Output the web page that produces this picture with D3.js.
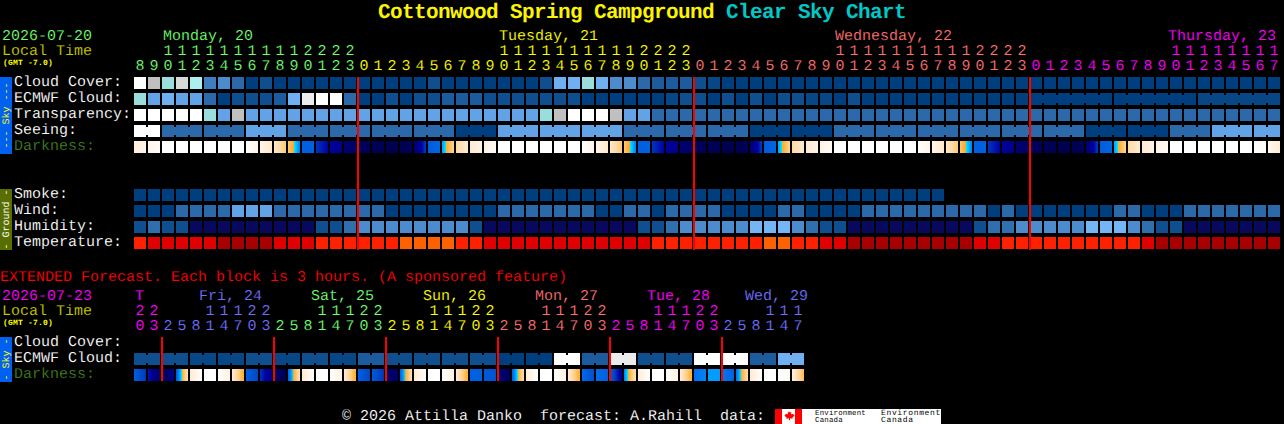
<!DOCTYPE html>
<html>
<head>
<meta charset="utf-8">
<script src="https://cdn.jsdelivr.net/npm/d3@7/dist/d3.min.js"></script>
<style>
html,body{margin:0;padding:0;background:#000;overflow:hidden}
svg{display:block}
text{font-family:"Liberation Mono",monospace;white-space:pre;font-size:15px;text-rendering:geometricPrecision}
text.thin{stroke:#000;stroke-width:.12px}
</style>
</head>
<body>
<svg id="c" width="1284" height="424" xmlns="http://www.w3.org/2000/svg"></svg>
<script>
// ---------- DATA ----------
const hours = [8,9,10,11,12,13,14,15,16,17,18,19,20,21,22,23,
  0,1,2,3,4,5,6,7,8,9,10,11,12,13,14,15,16,17,18,19,20,21,22,23,
  0,1,2,3,4,5,6,7,8,9,10,11,12,13,14,15,16,17,18,19,20,21,22,23,
  0,1,2,3,4,5,6,7,8,9,10,11,12,13,14,15,16,17];
const hourDays = [0,0,0,0,0,0,0,0,0,0,0,0,0,0,0,0,
  1,1,1,1,1,1,1,1,1,1,1,1,1,1,1,1,1,1,1,1,1,1,1,1,
  2,2,2,2,2,2,2,2,2,2,2,2,2,2,2,2,2,2,2,2,2,2,2,2,
  3,3,3,3,3,3,3,3,3,3,3,3,3,3,3,3,3,3];
const extHours = [20,23, 2,5,8,11,14,17,20,23, 2,5,8,11,14,17,20,23, 2,5,8,11,14,17,20,23,
  2,5,8,11,14,17,20,23, 2,5,8,11,14,17,20,23, 2,5,8,11,14,17];
const extDays = [3,3, 4,4,4,4,4,4,4,4, 0,0,0,0,0,0,0,0, 1,1,1,1,1,1,1,1,
  2,2,2,2,2,2,2,2, 3,3,3,3,3,3,3,3, 4,4,4,4,4,4];
const dayColors = ["#70ff70","#ffff00","#ff7070","#ff00ff","#7070ff"];

const cloudCover = [100,70,60,80,65,25,30,20,0,10,0,0,0,0,0,0,
  0,0,0,0,0,10,0,0,0,0,0,0,0,10,50,50,60,50,30,30,20,15,15,15,
  10,5,0,0,0,0,0,0,0,0,0,0,0,0,0,0,0,0,0,0,0,0,0,0,
  0,0,0,0,0,0,0,0,0,0,0,0,0,0,0,0,0,0];
const ecmwfCloud = [60,40,50,40,40,20,0,10,10,10,15,50,90,100,100,20,
  0,0,10,0,10,10,15,15,15,10,10,10,10,10,10,10,0,0,0,0,0,0,5,10,
  10,0,10,0,10,0,10,10,5,5,0,10,0,0,0,0,0,0,0,0,0,0,0,0,
  0,0,0,0,0,0,0,0,0,0,0,0,5,5,5,5,5,5];
const transparency = [100,100,100,100,100,60,40,70,40,40,40,40,40,40,40,40,
  40,40,40,40,40,40,40,40,40,40,40,40,40,60,70,100,100,100,70,40,40,20,20,20,
  20,20,20,20,20,20,20,20,20,20,20,20,20,20,20,20,20,20,20,20,20,20,20,20,
  20,20,20,20,20,20,20,20,20,20,20,20,20,20,20,20,20,20];
const seeing = [100,100, 20,20,20, 20,20,20, 40,40,40, 20,20,20, 20,20,20, 20,20,20, 20,20,20,
  0,0,0, 40,40,40, 40,40,40, 40,40,40, 20,20,20, 20,20,20, 20,20,20, 0,0,0, 0,0,0,
  20,20,20, 20,20,20, 20,20,20, 20,20,20, 20,20,20, 20,20,20, 0,0,0, 0,0,0,
  20,20,20, 40,40,40, 40,40];
const seeingBlocks = [2,3,3,3,3,3,3,3,3,3,3,3,3,3,3,3,3,3,3,3,3,3,3,3,3,3,3,2];
const ecmwfBlocks = d3.range(64).map(() => 1).concat([6,6,6]);

const darkness = [[.1,.06],[.06,.02],[0,0],[0,0],[0,0],[0,0],[0,0],[0,0],[0,.06],[.06,.14],[.14,.26],[.26,.44],[.5,.5],[.62,.7],[.72,.78],[.85,.88],
  [.95,.96],[.97,.98],[.99,.99],[.98,.97],[.88,.6],[.51,.49],[.41,.22],[.2,.13],[.12,.07],[.07,.02],[0,0],[0,0],[0,0],[0,0],[0,0],[0,0],[0,.06],[.06,.14],[.14,.26],[.26,.44],[.5,.5],[.62,.7],[.72,.78],[.85,.88],
  [.95,.96],[.97,.98],[.99,.99],[.98,.97],[.88,.6],[.51,.49],[.41,.22],[.2,.13],[.12,.07],[.07,.02],[0,0],[0,0],[0,0],[0,0],[0,0],[0,0],[0,.06],[.06,.14],[.14,.26],[.26,.44],[.5,.5],[.62,.7],[.72,.78],[.85,.88],
  [.95,.96],[.97,.98],[.99,.99],[.98,.97],[.88,.6],[.51,.49],[.41,.22],[.2,.13],[.12,.07],[.07,.02],[0,0],[0,0],[0,0],[0,0],[0,0],[0,0],[0,.03],[.04,.12]];

const smoke = d3.range(58).map(() => 0);
const wind = [0,0,0,20,20,20,20,40,40,40,20,20,20,20,20,20,20,20,0,0,0,0,0,0,0,0,20,20,20,20,20,20,20,0,0,20,20,0,20,20,20,20,
  0,0,0,0,20,20,0,0,0,0,20,20,20,20,20,20,20,20,20,0,20,0,0,0,0,0,0,0,20,20,0,0,0,20,20,20,20,20,20,20];
const humidity = [1,2,1,1,0,0,0,0,0,0,0,0,0,1,1,2,3,3,3,3,3,3,3,3,1,0,0,0,0,0,0,0,0,0,0,0,1,1,2,3,3,3,3,3,4,4,4,3,2,1,1,0,
  0,0,0,0,0,0,0,0,1,2,2,3,3,3,3,3,4,4,4,3,2,1,1,0,0,0,0,0,0,0];
const temperature = [2,1,1,1,1,1,0,0,0,0,1,1,1,2,2,2,2,2,2,3,3,3,3,2,2,1,1,1,1,1,1,1,1,1,1,1,1,2,2,2,2,2,2,2,2,3,3,2,2,1,1,0,
  0,0,0,0,0,0,0,0,1,1,2,2,2,2,2,2,2,2,2,2,1,0,0,0,0,0,0,0,0,0];

const extEcmwf = [10,10,10,10,5,5,5,5,10,10,5,5,10,10,5,5,15,15,10,10,10,10,10,10,10,10,0,0,0,0,100,100,15,15,90,90,10,10,10,10,100,100,100,100,15,15,50,50];
const extBlocks = d3.range(24).map(() => 2);
const extDarkness = [[.5,.62],[.66,.9],[.98,.75],[.52,.16],[.12,0],[0,0],[0,.08],[.12,.34],
  [.5,.58],[.62,.8],[.88,.98],[.5,.16],[.12,0],[0,0],[0,.08],[.12,.34],
  [.5,.58],[.52,.62],[.85,.9],[.5,.16],[.12,0],[0,0],[0,.08],[.12,.34],
  [.5,.5],[.52,.54],[.8,.95],[.5,.18],[.1,0],[0,0],[0,.08],[.12,.34],
  [.48,.55],[.48,.5],[.5,.75],[.44,.16],[.1,0],[0,0],[0,.08],[.12,.34],
  [.47,.44],[.41,.41],[.46,.5],[.47,.18],[.12,0],[0,0],[0,.02],[.1,.3]];

// ---------- SCALES ----------
const cloudColor = d3.scaleOrdinal()
  .domain([0,5,10,15,20,25,30,40,50,60,65,70,80,90,100])
  .range(["#003f7f","#084785","#0f4f8f","#1c5b9d","#2b69ab","#3d7dc0","#4c8cce","#62a2e6","#70b0f2","#99dddd","#aeeeee","#c0c0c0","#d8d8d8","#ececec","#ffffff"]);
const humidityColor = d3.scaleOrdinal().domain([0,1,2,3,4]).range(["#08085e","#0f4f8f","#2f6fae","#4c8cce","#74b5f6"]);
const tempColor = d3.scaleOrdinal().domain([0,1,2,3]).range(["#a80000","#e00000","#ff2000","#ff6000"]);
const darkColor = d3.scaleLinear()
  .domain([0,.06,.14,.24,.349,.35,.42,.5,.6,.7,.85,1])
  .range(["#ffffff","#fff4e8","#ffe8cc","#ffcf88","#ffa820","#00e8ff","#0090ff","#0060e0","#0040c0","#0000a8","#000070","#000050"]);

const x = d3.scaleBand().domain(d3.range(hours.length))
  .range([134, 134 + 14 * hours.length - 2]).paddingInner(2 / 14).paddingOuter(0).align(0);
const xExt = d3.scaleBand().domain(d3.range(extHours.length))
  .range([134, 134 + 14 * extHours.length - 2]).paddingInner(2 / 14).paddingOuter(0).align(0);

// ---------- DRAW ----------
const svg = d3.select("#c");
svg.append("rect").attr("width",1284).attr("height",424).attr("fill","#000");

function label(s, px, py, fill, opt = {}) {
  const t = svg.append("text").attr("x",px).attr("y",py).attr("fill",fill).text(s);
  if (!opt.solid) t.attr("class","thin");
  if (opt.size) t.style("font-size",opt.size + "px");
  if (opt.bold) t.style("font-weight","bold");
  if (opt.ls != null) t.style("letter-spacing",opt.ls + "px");
  return t;
}

function row(values, top, xs, color, blocks) {
  const g = svg.append("g").attr("shape-rendering","crispEdges");
  const h = 12;
  const left = i => Math.round(xs(i));
  const bw = Math.round(xs.bandwidth());
  g.selectAll("rect.cell").data(values).join("rect").attr("class","cell")
    .attr("x",(d,i) => left(i)).attr("y",top).attr("width",bw).attr("height",h)
    .attr("fill",d => color(d));
  if (blocks) {
    let start = 0;
    blocks.forEach(len => {
      for (let i = start; i < start + len - 1; i++) {
        g.append("rect").attr("x",left(i) + bw).attr("y",top + 2)
          .attr("width",left(i + 1) - left(i) - bw).attr("height",h - 4).attr("fill",color(values[i]));
      }
      start += len;
    });
  }
}

function darkRow(values, top, xs) {
  const g = svg.append("g").attr("shape-rendering","crispEdges");
  const w = Math.round(xs.bandwidth());
  values.forEach((v, i) => {
    d3.range(w).forEach(k => {
      g.append("rect").attr("x",Math.round(xs(i)) + k).attr("y",top).attr("width",1).attr("height",12)
        .attr("fill",darkColor(v[0] + (v[1] - v[0]) * (k + .5) / w));
    });
  });
}

function hourAxis(hs, ds, xs, y1, y2) {
  const ones = svg.append("g").attr("transform",`translate(0,${y1})`)
    .call(d3.axisTop(xs).tickSize(0).tickPadding(0).offset(0).tickFormat(i => hs[i] % 10));
  const tens = svg.append("g").attr("transform",`translate(0,${y2})`)
    .call(d3.axisTop(xs).tickSize(0).tickPadding(0).offset(0).tickFormat(i => hs[i] >= 10 ? Math.floor(hs[i] / 10) : ""));
  [ones, tens].forEach(a => {
    a.attr("font-family",null).attr("font-size",null);
    a.select(".domain").remove();
    a.selectAll("text").attr("dy",0).attr("y",0).attr("class","thin")
      .attr("fill",(i) => dayColors[ds[i]]);
  });
}

function vbar(top, bottom, fill, text, textFill) {
  svg.append("rect").attr("x",0).attr("y",top).attr("width",12).attr("height",bottom - top)
    .attr("fill",fill).attr("shape-rendering","crispEdges");
  svg.append("text").attr("transform",`translate(9,${(top + bottom) / 2}) rotate(-90)`)
    .attr("text-anchor","middle").attr("fill",textFill).style("font-size","10px").text(text);
}

function midnights(hs, xs, top, bottom) {
  const idx = d3.range(1, hs.length).filter(i => hs[i] < hs[i - 1]);
  svg.append("g").attr("shape-rendering","crispEdges").selectAll("rect").data(idx).join("rect")
    .attr("x",i => Math.round(xs(i)) - 1).attr("y",top).attr("width",2).attr("height",bottom - top).attr("fill","#ff0000");
}

// title
const title = svg.append("text").attr("x",378).attr("y",18).style("font-weight","bold")
  .style("font-size","21px").style("letter-spacing","-0.6px");
title.append("tspan").attr("fill","#fcf400").text("Cottonwood Spring Campground ");
title.append("tspan").attr("fill","#00c8c8").text("Clear Sky Chart");

// left column, main
label("2026-07-20",2,40,dayColors[0]);
label("Local Time",2,55,"#c8c800");
label("(GMT -7.0)",3,65,"#ffff00",{size:8,bold:true,ls:.2,solid:true});
label("Monday, 20",163,40,dayColors[0]);
label("Tuesday, 21",499,40,dayColors[1]);
label("Wednesday, 22",835,40,dayColors[2]);
label("Thursday, 23",1168,40,dayColors[3]);
hourAxis(hours,hourDays,x,70,55);

const mainRows = [["Cloud Cover:",86,"#fff"],["ECMWF Cloud:",102,"#fff"],["Transparency:",118,"#fff"],["Seeing:",134,"#fff"],["Darkness:",150,"#3f7a1f"],
  ["Smoke:",198,"#fff"],["Wind:",214,"#fff"],["Humidity:",230,"#fff"],["Temperature:",246,"#fff"]];
mainRows.forEach(r => label(r[0],14,r[1],r[2]));

vbar(77,154,"#0060f0","--- Sky ---","#ffff00");
vbar(189,250,"#586e00","- Ground -","#ffffff");

row(cloudCover,77,x,cloudColor);
row(ecmwfCloud,93,x,cloudColor,ecmwfBlocks);
row(transparency,109,x,cloudColor);
row(seeing,125,x,cloudColor,seeingBlocks);
darkRow(darkness,141,x);
row(smoke,189,x,cloudColor);
row(wind,205,x,cloudColor);
row(humidity,221,x,humidityColor);
row(temperature,237,x,tempColor);
midnights(hours,x,77,250);

// extended
label("EXTENDED Forecast. Each block is 3 hours. (A sponsored feature)",0,281,"#ff0000");
label("2026-07-23",2,300,dayColors[3]);
label("Local Time",2,315,"#c8c800");
label("(GMT -7.0)",3,325,"#ffff00",{size:8,bold:true,ls:.2,solid:true});
label("T",135,300,dayColors[3]);
label("Fri, 24",199,300,dayColors[4]);
label("Sat, 25",311,300,dayColors[0]);
label("Sun, 26",423,300,dayColors[1]);
label("Mon, 27",535,300,dayColors[2]);
label("Tue, 28",647,300,dayColors[3]);
label("Wed, 29",745,300,dayColors[4]);
hourAxis(extHours,extDays,xExt,330,315);
label("Cloud Cover:",14,346,"#fff");
label("ECMWF Cloud:",14,362,"#fff");
label("Darkness:",14,378,"#3f7a1f");
vbar(337,382,"#0060f0","- Sky -","#ffff00");
row(extEcmwf,353,xExt,cloudColor,extBlocks);
darkRow(extDarkness,369,xExt);
midnights(extHours,xExt,337,381);

// footer
label("\u00a9 2026 Attilla Danko  forecast: A.Rahill  data:",342,420,"#fff");
const logo = svg.append("g");
logo.append("rect").attr("x",775).attr("y",409).attr("width",166).attr("height",15).attr("fill","#fff").attr("shape-rendering","crispEdges");
logo.append("rect").attr("x",775).attr("y",409).attr("width",7).attr("height",15).attr("fill","#f00").attr("shape-rendering","crispEdges");
logo.append("rect").attr("x",795).attr("y",409).attr("width",7).attr("height",15).attr("fill","#f00").attr("shape-rendering","crispEdges");
logo.append("path").attr("fill","#f00")
  .attr("d","M788.5 410.5l1.4 2 1.5-.6-.4 2.4 2.2-.6.5 1.4 1 .4-2.4 2.2.5 1-2.8-.4v2h-1v-2l-2.8.4.5-1-2.4-2.2 1-.4.5-1.4 2.2.6-.4-2.4 1.5.6z");
[[815,"Environment","Canada",7.4,.2],[881,"Environment","Canada",8,.65]].forEach(d => {
  label(d[1],d[0],415,"#000",{size:d[3],ls:d[4],solid:true});
  label(d[2],d[0],422,"#000",{size:d[3],ls:d[4],solid:true});
});
</script>
</body>
</html>
